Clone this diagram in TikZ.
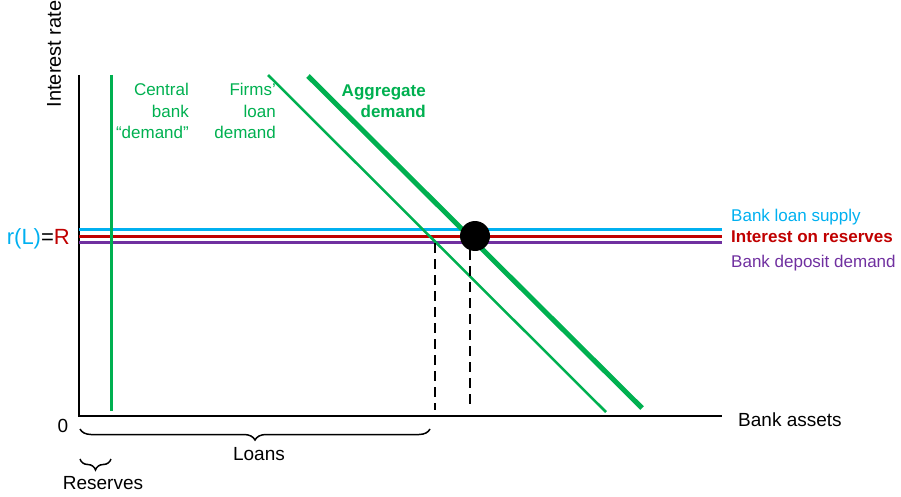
\documentclass[tikz,border=0pt]{standalone}
\usepackage{fontspec}
\setmainfont{Liberation Sans}
\usetikzlibrary{decorations.pathreplacing}
\definecolor{cgreen}{RGB}{0,176,80}
\definecolor{cblue}{RGB}{0,176,240}
\definecolor{cred}{RGB}{192,0,0}
\definecolor{cpurple}{RGB}{112,48,160}
\begin{document}
\begin{tikzpicture}[x=1pt,y=-1pt,
  axis/.style={line width=2.5pt,black},
  rate/.style={line width=3pt},
  dropline/.style={line width=2pt,dash pattern=on 10pt off 6pt},
  lbl/.style={inner sep=0pt,font=\fontsize{17}{21.5}\selectfont},
  axlbl/.style={inner sep=0pt,font=\fontsize{19}{22}\selectfont},
  bracestyle/.style={decorate,decoration={brace,mirror,amplitude=11pt},line width=1.5pt}]
\useasboundingbox (0,0) rectangle (901,497);
% axes
\coordinate (ytop) at (79,75);
\coordinate (orig) at (79,416);
\coordinate (xend) at (722,416);
\draw[axis] (ytop) -- (orig) -- (xend);
% horizontal rate lines
\coordinate (bl0) at (79,229); \coordinate (bl1) at (722,229);
\coordinate (ir0) at (79,236); \coordinate (ir1) at (722,236);
\coordinate (dd0) at (79,242); \coordinate (dd1) at (722,242);
\draw[rate,cblue] (bl0) -- (bl1);
\draw[rate,cred] (ir0) -- (ir1);
\draw[rate,cpurple] (dd0) -- (dd1);
% central bank demand
\coordinate (cb0) at (111,75); \coordinate (cb1) at (111,411);
\draw[line width=3pt,cgreen] (cb0) -- (cb1);
% firms loan demand
\coordinate (fd0) at (268,75); \coordinate (fd1) at (606,412);
\draw[line width=2.5pt,cgreen] (fd0) -- (fd1);
% aggregate demand
\coordinate (ad0) at (308,76); \coordinate (ad1) at (642,408);
\draw[line width=5pt,cgreen] (ad0) -- (ad1);
% dashed drop lines
\coordinate (da0) at (435,243); \coordinate (da1) at (435,410);
\coordinate (db0) at (470,250); \coordinate (db1) at (470,410);
\draw[dropline] (da0) -- (da1);
\draw[dropline] (db0) -- (db1);
% equilibrium dot
\node[circle,fill=black,minimum size=30pt,inner sep=0pt] (eq) at (475,236) {};
% braces
\coordinate (lb0) at (80,429); \coordinate (lb1) at (430,429);
\draw[bracestyle] (lb0) -- (lb1);
\coordinate (rb0) at (80,459); \coordinate (rb1) at (111,459);
\draw[bracestyle] (rb0) -- (rb1);
% labels
\node[inner sep=0pt,font=\fontsize{20}{24}\selectfont,rotate=90,anchor=center] (yl) at (54,54) {Interest rate};
\node[axlbl,anchor=base west] (xl) at (738,426) {Bank assets};
\node[axlbl,anchor=base] (zero) at (63,432) {0};
\node[axlbl,anchor=base] (loans) at (259,460) {Loans};
\node[axlbl,anchor=base] (res) at (103,489) {Reserves};
\node[inner sep=0pt,anchor=base east,font=\fontsize{22}{26}\selectfont] (rl) at (70,244) {\textcolor{cblue}{r(L)}=\textcolor{cred}{R}};
\node[lbl,anchor=base east,align=right,text=cgreen] (cbl) at (189,139) {Central\\bank\\“demand”};
\node[lbl,anchor=base east,align=right,text=cgreen] (fdl) at (276,139) {Firms’\\loan\\demand};
\node[lbl,anchor=base east,align=right,text=cgreen,font=\fontsize{17}{21.5}\selectfont\bfseries] (adl) at (426,118) {Aggregate\\demand};
\node[lbl,anchor=base west,text=cblue] (bls) at (731,221) {Bank loan supply};
\node[lbl,anchor=base west,text=cred,font=\fontsize{17}{21.5}\selectfont\bfseries] (ior) at (731,242) {Interest on reserves};
\node[lbl,anchor=base west,text=cpurple] (bdd) at (731,267) {Bank deposit demand};
\end{tikzpicture}
\end{document}
